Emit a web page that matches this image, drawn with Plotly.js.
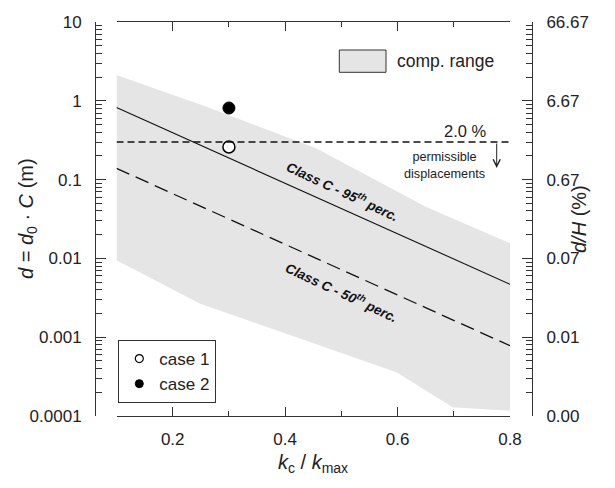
<!DOCTYPE html>
<html><head><meta charset="utf-8">
<script src="https://cdn.plot.ly/plotly-3.0.1.min.js"></script>
<style>html,body{margin:0;padding:0;background:#fff}</style>
</head><body><div id="chart" style="width:615px;height:488px"></div>
<script>
// comp. range band (upper and lower boundary)
const rangeUpperX = [0.1, 0.26, 0.456, 0.651, 0.8];
const rangeUpperY = [2.12, 0.84, 0.248, 0.045, 0.0156];
const rangeLowerX = [0.1, 0.248, 0.598, 0.698, 0.8];
const rangeLowerY = [0.00946, 0.00267, 0.00036, 0.000129, 0.000117];
// Class C percentile lines
const p95X = [0.1, 0.8];
const p95Y = [0.82, 0.0047];
const p50X = [0.1, 0.8];
const p50Y = [0.139, 0.00078];
// permissible displacement (2.0 %)
const limitX = [0.1, 0.8];
const limitY = [0.3, 0.3];
// cases
const case1X = [0.3], case1Y = [0.26];
const case2X = [0.3], case2Y = [0.81];
// tick labels (right axis: d/H in %, H = 15 m)
const leftTickAlias = {'1e-4': '0.0001', '0.0001': '0.0001'};
const rightTickAlias = {'10': '66.67', '1': '6.67', '0.1': '0.67', '0.01': '0.07', '0.001': '0.01', '0.0001': '0.00', '1e-4': '0.00'};

const FONT = 'Liberation Sans, Arial, Helvetica, sans-serif';
const AX = '#333';
const BAND = '#e5e5e5';

const bandX = rangeUpperX.concat(rangeLowerX.slice().reverse());
const bandY = rangeUpperY.concat(rangeLowerY.slice().reverse());

const traces = [
  {x: bandX, y: bandY, type: 'scatter', mode: 'lines', fill: 'toself',
   fillcolor: BAND, line: {width: 0, color: BAND}, showlegend: false, hoverinfo: 'skip'},
  {x: p95X, y: p95Y, type: 'scatter', mode: 'lines', line: {color: '#111', width: 1.1}, showlegend: false},
  {x: p50X, y: p50Y, type: 'scatter', mode: 'lines', line: {color: '#111', width: 1.3, dash: '14px,7px'}, showlegend: false},
  {x: limitX, y: limitY, type: 'scatter', mode: 'lines', yaxis: 'y2', line: {color: '#111', width: 1.3, dash: '7px,4px'}, showlegend: false},
  {x: case1X, y: case1Y, type: 'scatter', mode: 'markers', showlegend: false,
   marker: {size: 12, color: '#fff', line: {color: '#000', width: 1.5}}},
  {x: case2X, y: case2Y, type: 'scatter', mode: 'markers', showlegend: false,
   marker: {size: 12, color: '#000', line: {color: '#000', width: 1}}},
  {x: [null], y: [null], type: 'scatter', mode: 'markers', name: 'case 1', legend: 'legend2',
   marker: {size: 8, color: '#fff', line: {color: '#000', width: 1.2}}},
  {x: [null], y: [null], type: 'scatter', mode: 'markers', name: 'case 2', legend: 'legend2',
   marker: {size: 8, color: '#000', line: {color: '#000', width: 1}}}
];

const W = 437, H = 394, L = 95, T = 22;
const px = v => (v - L) / W;
const py = v => (T + H - v) / H;

function yAxis(extra) {
  return Object.assign({
    type: 'log', range: [-4, 1], anchor: 'free',
    showline: true, linecolor: AX, linewidth: 1,
    ticks: 'inside', ticklen: 10, tickcolor: AX,
    tickmode: 'linear', tick0: 0, dtick: 1, tickformat: '~g',
    ticklabelstandoff: 10,
    minor: {ticks: 'inside', ticklen: 6, dtick: 'D1', tickcolor: AX, showgrid: false},
    showgrid: false, zeroline: false
  }, extra);
}

const C = {xanchor: 'center', yanchor: 'middle', xref: 'paper', yref: 'paper', showarrow: false};

const layout = {
  width: 615, height: 488,
  margin: {l: L, r: 615 - L - W, t: T, b: 488 - T - H, pad: 0},
  paper_bgcolor: '#fff', plot_bgcolor: 'rgba(0,0,0,0)',
  font: {family: FONT, size: 17, color: '#222'},
  showlegend: true,
  xaxis: {
    domain: [px(116.5), px(510)], range: [0.1, 0.8],
    showline: true, linecolor: AX, linewidth: 1, mirror: 'ticks',
    ticks: 'inside', ticklen: 9, tickcolor: AX, tickwidth: 1,
    tickmode: 'linear', tick0: 0, dtick: 0.2, tickformat: '.1f',
    ticklabelstandoff: 8,
    minor: {ticks: 'inside', ticklen: 5, dtick: 0.1, tick0: 0, tickcolor: AX, showgrid: false},
    showgrid: false, zeroline: false
  },
  yaxis: yAxis({position: 0, labelalias: leftTickAlias}),
  yaxis2: yAxis({position: 1, overlaying: 'y', side: 'right', labelalias: rightTickAlias}),
  legend2: {
    x: px(118.3), y: py(340), xanchor: 'left', yanchor: 'top',
    bgcolor: '#fff', bordercolor: AX, borderwidth: 1,
    font: {family: FONT, size: 17, color: '#222'},
    itemsizing: 'trace', tracegroupgap: 0
  },
  shapes: [
    {type: 'rect', xref: 'paper', yref: 'paper', x0: px(339.3), x1: px(386), y0: py(72.3), y1: py(50),
     fillcolor: BAND, line: {color: AX, width: 1}}
  ],
  annotations: [
    Object.assign({}, C, {x: px(395), y: py(61), xanchor: 'left',
     text: 'comp. range', font: {family: FONT, size: 17.5, color: '#222'}}),
    Object.assign({}, C, {x: px(343), y: py(191), text: '<b><i>Class C - 95<sup>th</sup> perc.</i></b>',
     textangle: 25, font: {family: FONT, size: 13.5, color: '#111'}}),
    Object.assign({}, C, {x: px(342), y: py(292), text: '<b><i>Class C - 50<sup>th</sup> perc.</i></b>',
     textangle: 25, font: {family: FONT, size: 13.5, color: '#111'}}),
    Object.assign({}, C, {x: px(465), y: py(131), text: '2.0 %',
     font: {family: FONT, size: 16.5, color: '#222'}}),
    Object.assign({}, C, {x: px(444), y: py(165.5), text: 'permissible<br>displacements',
     align: 'center', font: {family: FONT, size: 12.7, color: '#222'}}),
    {xref: 'paper', yref: 'paper', x: px(496.7), y: py(168), ax: 0, ay: -26, text: '',
     showarrow: true, arrowhead: 5, arrowsize: 1.4, arrowwidth: 1, arrowcolor: '#222'},
    Object.assign({}, C, {x: px(27), y: py(219), textangle: -90,
     text: '<i>d</i> = <i>d</i><sub>0</sub> · <i>C</i> (m)', font: {family: FONT, size: 20, color: '#222'}}),
    Object.assign({}, C, {x: px(579), y: py(219), textangle: -90,
     text: '<i>d/H</i> (%)', font: {family: FONT, size: 20, color: '#222'}}),
    Object.assign({}, C, {x: px(313), y: py(463),
     text: '<i>k</i><sub>c</sub> / <i>k</i><sub>max</sub>', font: {family: FONT, size: 20, color: '#222'}})
  ]
};

Plotly.newPlot('chart', traces, layout, {displayModeBar: false, staticPlot: true});
</script>
</body></html>
